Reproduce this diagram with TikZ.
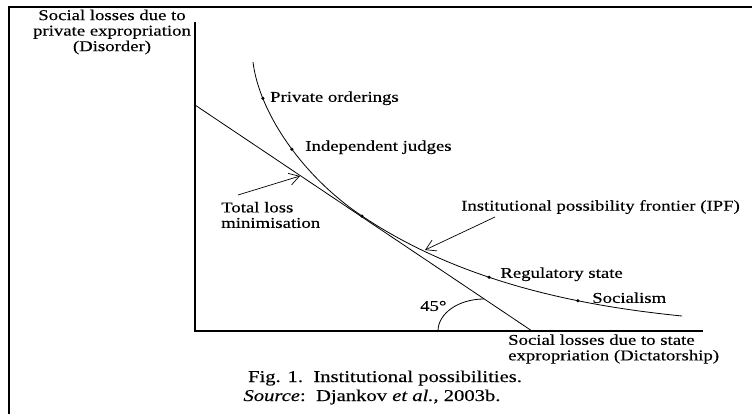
\documentclass[tikz,border=0pt]{standalone}
\usepackage{fontspec}
\setmainfont{Liberation Serif}[FakeStretch=1.25, FakeBold=0.3]
\usetikzlibrary{positioning, arrows.meta}

\tikzset{
    frameline/.style={line width=1.8pt},
    axisline/.style={line width=2.2pt},
    ipfline/.style={line width=0.8pt},
    dot/.style={circle, fill, inner sep=0pt, minimum size=3.5pt},
    lbl/.style={font=\fontsize{15}{15.5}\selectfont, inner sep=0pt},
    caption/.style={font=\fontsize{16.5}{17}\selectfont, inner sep=0pt, anchor=base,
        text height=11.5pt, text depth=2.5pt},
    pointer/.style={-{Straight Barb[length=10pt,width=12pt]}, line width=0.7pt},
}

\begin{document}
\begin{tikzpicture}[x=1pt, y=-1pt]
    \useasboundingbox (0,0) rectangle (752,413);
    % frame and axes
    \draw[frameline] (9,420) -- (9,7) -- (760,7);
    \coordinate (ytop) at (195,22);
    \coordinate (O)    at (195,331);
    \coordinate (xend) at (703,331);
    \draw[axisline] (ytop) -- (O) -- (xend);
    % total loss line
    \coordinate (tA) at (195,105);
    \coordinate (tB) at (532,331);
    \draw[ipfline] (tA) -- (tB);
    % frontier
    \coordinate (ipfA) at (253,62);
    \coordinate (ipfB) at (682,316);
    \draw[ipfline] (ipfA) .. controls (259,112) and (302,176) .. (362,216)
        node[dot, pos=0.23] (po) {}
        node[dot, pos=0.54] (ij) {}
        node[dot, pos=1]    (tl) {}
        .. controls (462,283) and (582,306) .. (ipfB)
        node[dot, pos=0.4]  (rs) {}
        node[dot, pos=0.67] (so) {};
    % angle
    \draw[ipfline] (438,331) arc[start angle=180, end angle=90, x radius=46pt, y radius=32pt];
    % labels
    \node[lbl, align=center] (ylab) at (112,32) {Social losses due to\\private expropriation\\(Disorder)};
    \node[lbl, align=left, anchor=west] (xlab) at (508,349) {Social losses due to state\\expropriation (Dictatorship)};
    \node[lbl, right=5pt of po]              (polab) {Private orderings};
    \node[lbl, right=11pt of ij, yshift=2pt] (ijlab) {Independent judges};
    \node[lbl, right=9pt of rs, yshift=3pt]  (rslab) {Regulatory state};
    \node[lbl, right=12pt of so, yshift=3pt] (solab) {Socialism};
    \node[lbl, align=left, anchor=west] (tllab) at (221,215) {Total loss\\minimisation};
    \node[lbl, anchor=west] (ipflab) at (461,207) {Institutional possibility frontier (IPF)};
    \node[lbl, anchor=west] (anglab) at (420,306) {45°};
    % pointers
    \coordinate (tlsrc) at (238,195);
    \coordinate (tltip) at (300,176);
    \draw[pointer] (tlsrc) -- (tltip);
    \coordinate (ipfsrc) at (495,217);
    \coordinate (ipftip) at (425,250);
    \draw[pointer] (ipfsrc) -- (ipftip);
    % caption
    \node[caption] (cap)  at (385,382) {Fig. 1.\ \ Institutional possibilities.};
    \node[caption] (src)  at (372,401) {\textit{Source}:\ \ Djankov \textit{et al.}, 2003b.};
\end{tikzpicture}
\end{document}
